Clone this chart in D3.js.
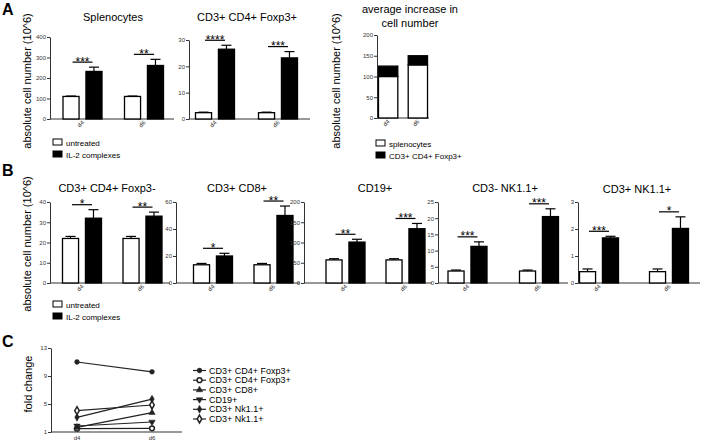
<!DOCTYPE html>
<html><head><meta charset="utf-8">
<script src="https://cdn.jsdelivr.net/npm/d3@7"></script>
<style>body{margin:0;background:#fff} svg{display:block}</style>
</head><body><svg id="c" width="702" height="443"></svg>
<script>
// ---------- DATA ----------
const groups = ["d4", "d6"];
const treatments = ["untreated", "IL-2 complexes"];

// Panel A
const splenoUntreated = [110, 110], splenoUntreatedErr = [2, 2];
const splenoTreated = [232, 261], splenoTreatedErr = [21, 30];
const splenoStars = ["***", "**"], splenoTicks = [0, 100, 200, 300, 400];

const tregUntreated = [2.4, 2.4], tregUntreatedErr = [0.2, 0.2];
const tregTreated = [26.5, 23.2], tregTreatedErr = [1.5, 2.4];
const tregStars = ["****", "***"], tregTicks = [0, 10, 20, 30];

const avgSplenocytes = [100, 128], avgTreg = [25, 22], avgTicks = [0, 50, 100, 150, 200];
const avgSeries = ["splenocytes", "CD3+ CD4+ Foxp3+"];

// Panel B
const convUntreated = [22, 22], convUntreatedErr = [1, 1];
const convTreated = [32, 33], convTreatedErr = [4.2, 2];
const convStars = ["*", "**"], convTicks = [0, 10, 20, 30, 40];

const cd8Untreated = [13.5, 13.5], cd8UntreatedErr = [1, 1];
const cd8Treated = [20, 50], cd8TreatedErr = [2, 7];
const cd8Stars = ["*", "**"], cd8Ticks = [0, 20, 40, 60];

const cd19Untreated = [57, 57], cd19UntreatedErr = [3, 3];
const cd19Treated = [101, 134], cd19TreatedErr = [7, 13];
const cd19Stars = ["**", "***"], cd19Ticks = [0, 50, 100, 150, 200];

const nkUntreated = [3.7, 3.7], nkUntreatedErr = [0.3, 0.3];
const nkTreated = [11.3, 20.5], nkTreatedErr = [1.4, 2.4];
const nkStars = ["***", "***"], nkTicks = [0, 5, 10, 15, 20, 25];

const nktUntreated = [0.42, 0.42], nktUntreatedErr = [0.1, 0.1];
const nktTreated = [1.67, 2.02], nktTreatedErr = [0.06, 0.43];
const nktStars = ["***", "*"], nktTicks = [0, 1, 2, 3];

// Panel C
const foldSeries = ["CD3+ CD4+ Foxp3+", "CD3+ CD4+ Foxp3+", "CD3+ CD8+", "CD19+", "CD3+ Nk1.1+", "CD3+ Nk1.1+"];
const foldFoxp3Pos = [11.0, 9.6];
const foldFoxp3Neg = [1.48, 1.53];
const foldCD8 = [1.67, 3.76];
const foldCD19 = [1.86, 2.43];
const foldNKneg = [3.1, 5.7];
const foldNKpos = [4.05, 4.86];
const foldTicks = [1, 5, 9, 13];

// ---------- DRAWING ----------
const FONT = '"Liberation Sans", Arial, Helvetica, sans-serif';
const AX = "#333";
const svg = d3.select("#c").attr("font-family", FONT);

function yAxis(g, y, ticks, x0) {
  const ax = d3.axisLeft(y).tickValues(ticks).tickFormat(d3.format("d"))
    .tickSize(3).tickSizeOuter(0).tickPadding(1);
  const a = g.append("g").attr("transform", `translate(${x0},0)`).call(ax);
  a.select(".domain").attr("stroke", AX).attr("stroke-width", 1);
  a.selectAll(".tick line").attr("stroke", AX);
  a.selectAll(".tick text").attr("font-size", 6).attr("fill", "#333").attr("font-family", FONT);
}

function text(g, x, y, s, size, opts = {}) {
  return g.append("text").attr("x", x).attr("y", y).text(s)
    .attr("font-size", size).attr("fill", opts.fill || "#000")
    .attr("text-anchor", opts.anchor || "start")
    .attr("font-weight", opts.weight || "normal");
}

function rotLabels(g, xf, y0) {
  groups.forEach(gr => {
    g.append("text").text(gr).attr("font-size", 6).attr("fill", "#333")
      .attr("text-anchor", "end")
      .attr("transform", `translate(${xf(gr) + 2},${y0 + 4}) rotate(-45)`);
  });
}

function barChart(L, D) {
  const g = svg.append("g");
  const y = d3.scaleLinear().domain([0, d3.max(D.ticks)]).range([L.y0, L.yTop]);
  const xg = d3.scalePoint().domain(groups).range([L.c4, L.c6]);
  const xi = d3.scaleBand().domain(treatments).range([-19.5, 19.5]).paddingInner(0.3);
  const bw = xi.bandwidth();
  yAxis(g, y, D.ticks, L.x0);
  g.append("line").attr("x1", L.x0).attr("x2", L.xEnd).attr("y1", L.y0).attr("y2", L.y0)
    .attr("stroke", AX);
  const recs = [];
  groups.forEach((gr, i) => {
    recs.push({ g: gr, t: treatments[0], v: D.u[i], e: D.ue[i] });
    recs.push({ g: gr, t: treatments[1], v: D.t[i], e: D.te[i] });
  });
  const cx = d => xg(d.g) + xi(d.t) + bw / 2;
  const eb = g.append("g").selectAll("g").data(recs).join("g").attr("stroke", "#000").attr("stroke-width", 1.2);
  eb.append("line").attr("x1", cx).attr("x2", cx).attr("y1", d => y(d.v)).attr("y2", d => y(d.v + d.e));
  eb.append("line").attr("x1", d => cx(d) - 5).attr("x2", d => cx(d) + 5)
    .attr("y1", d => y(d.v + d.e)).attr("y2", d => y(d.v + d.e));
  g.append("g").selectAll("rect").data(recs).join("rect")
    .attr("x", d => xg(d.g) + xi(d.t)).attr("y", d => y(d.v))
    .attr("width", bw).attr("height", d => L.y0 - y(d.v))
    .attr("fill", d => d.t === treatments[0] ? "#fff" : "#000")
    .attr("stroke", "#000").attr("stroke-width", 1.3);
  groups.forEach((gr, i) => {
    const top = y(D.t[i] + D.te[i]) - 5;
    const c = xg(gr);
    g.append("line").attr("x1", c - 10).attr("x2", c + 10).attr("y1", top).attr("y2", top)
      .attr("stroke", "#000").attr("stroke-width", 1.2);
    text(g, c, top + 3.5, D.stars[i], 12, { anchor: "middle" });
  });
  rotLabels(g, xg, L.y0);
  text(g, L.tx, L.ty, L.title, 11, { anchor: "middle" });
}

function ylabel(x, y, s, size) {
  svg.append("text").text(s).attr("font-size", size).attr("text-anchor", "middle")
    .attr("transform", `translate(${x},${y}) rotate(-90)`);
}

function legend(x, y, labels, fills) {
  labels.forEach((l, i) => {
    svg.append("rect").attr("x", x).attr("y", y + i * 12).attr("width", 9).attr("height", 6)
      .attr("fill", fills[i]).attr("stroke", "#000").attr("stroke-width", 1);
    text(svg, x + 13, y + i * 12 + 6.5, l, 8);
  });
}

// Panel letters
text(svg, 2, 15, "A", 16, { weight: "bold" });
text(svg, 2, 176, "B", 16, { weight: "bold" });
text(svg, 2, 347, "C", 16, { weight: "bold" });

// ---- Panel A ----
barChart({ x0: 50, xEnd: 174, y0: 119, yTop: 37, c4: 82.5, c6: 144, tx: 113, ty: 21, title: "Splenocytes" },
  { u: splenoUntreated, ue: splenoUntreatedErr, t: splenoTreated, te: splenoTreatedErr, stars: splenoStars, ticks: splenoTicks });
barChart({ x0: 189, xEnd: 310, y0: 119, yTop: 40, c4: 215, c6: 278, tx: 247, ty: 21, title: "CD3+ CD4+ Foxp3+" },
  { u: tregUntreated, ue: tregUntreatedErr, t: tregTreated, te: tregTreatedErr, stars: tregStars, ticks: tregTicks });
ylabel(31, 81, "absolute cell number (10^6)", 11);
legend(53, 139, treatments, ["#fff", "#000"]);

// Average increase stacked chart
(function () {
  const g = svg.append("g");
  const y = d3.scaleLinear().domain([0, 200]).range([118, 35]);
  const xb = d3.scaleBand().domain(groups).range([377, 429]).paddingInner(0.35).paddingOuter(0.05);
  yAxis(g, y, avgTicks, 377);
  g.append("line").attr("x1", 377).attr("x2", 429).attr("y1", 118).attr("y2", 118).attr("stroke", AX);
  const stacks = groups.map((gr, i) => ({ g: gr, a: avgSplenocytes[i], b: avgTreg[i] }));
  g.selectAll(".w").data(stacks).join("rect").attr("x", d => xb(d.g)).attr("width", xb.bandwidth())
    .attr("y", d => y(d.a)).attr("height", d => y(0) - y(d.a))
    .attr("fill", "#fff").attr("stroke", "#000").attr("stroke-width", 1.3);
  g.selectAll(".k").data(stacks).join("rect").attr("x", d => xb(d.g)).attr("width", xb.bandwidth())
    .attr("y", d => y(d.a + d.b)).attr("height", d => y(d.a) - y(d.a + d.b))
    .attr("fill", "#000").attr("stroke", "#000").attr("stroke-width", 1.3);
  const xc = gr => xb(gr) + xb.bandwidth() / 2;
  rotLabels(g, xc, 118);
  text(g, 410, 13, "average increase in", 11, { anchor: "middle" });
  text(g, 410, 27, "cell number", 11, { anchor: "middle" });
})();
ylabel(340, 81, "absolute cell number (10^6)", 11);
legend(376, 140, avgSeries, ["#fff", "#000"]);

// ---- Panel B ----
const bY0 = 283, bTop = 202;
barChart({ x0: 50, xEnd: 170, y0: bY0, yTop: bTop, c4: 82, c6: 142.5, tx: 107, ty: 192, title: "CD3+ CD4+ Foxp3-" },
  { u: convUntreated, ue: convUntreatedErr, t: convTreated, te: convTreatedErr, stars: convStars, ticks: convTicks });
barChart({ x0: 176, xEnd: 300, y0: bY0, yTop: bTop, c4: 213, c6: 273.5, tx: 237, ty: 192, title: "CD3+ CD8+" },
  { u: cd8Untreated, ue: cd8UntreatedErr, t: cd8Treated, te: cd8TreatedErr, stars: cd8Stars, ticks: cd8Ticks });
barChart({ x0: 304, xEnd: 432, y0: bY0, yTop: bTop, c4: 345.5, c6: 405.5, tx: 375, ty: 192, title: "CD19+" },
  { u: cd19Untreated, ue: cd19UntreatedErr, t: cd19Treated, te: cd19TreatedErr, stars: cd19Stars, ticks: cd19Ticks });
barChart({ x0: 438, xEnd: 568, y0: bY0, yTop: bTop, c4: 467.5, c6: 539, tx: 505, ty: 192, title: "CD3- NK1.1+" },
  { u: nkUntreated, ue: nkUntreatedErr, t: nkTreated, te: nkTreatedErr, stars: nkStars, ticks: nkTicks });
barChart({ x0: 578, xEnd: 700, y0: bY0, yTop: bTop, c4: 599, c6: 669, tx: 637, ty: 193, title: "CD3+ NK1.1+" },
  { u: nktUntreated, ue: nktUntreatedErr, t: nktTreated, te: nktTreatedErr, stars: nktStars, ticks: nktTicks });
ylabel(31, 244, "absolute cell number (10^6)", 11);
legend(53, 301, treatments, ["#fff", "#000"]);

// ---- Panel C ----
(function () {
  const g = svg.append("g");
  const y = d3.scaleLinear().domain([1, 13]).range([432, 348]);
  const x = d3.scalePoint().domain(groups).range([77, 152]);
  yAxis(g, y, foldTicks, 51);
  g.append("line").attr("x1", 51).attr("x2", 182).attr("y1", 432).attr("y2", 432).attr("stroke", AX);
  groups.forEach(gr => text(g, x(gr), 440, gr, 6, { anchor: "middle", fill: "#333" }));
  const series = [foldFoxp3Pos, foldFoxp3Neg, foldCD8, foldCD19, foldNKneg, foldNKpos];
  const sym = [
    { t: d3.symbolCircle, s: 18, fill: true, r: 0 },
    { t: d3.symbolCircle, s: 18, fill: false, r: 0 },
    { t: d3.symbolTriangle, s: 18, fill: true, r: 0 },
    { t: d3.symbolTriangle, s: 18, fill: true, r: 180 },
    { t: d3.symbolDiamond, s: 18, fill: true, r: 0 },
    { t: d3.symbolDiamond, s: 18, fill: false, r: 0 }
  ];
  const line = d3.line().x((d, i) => x(groups[i])).y(d => y(d));
  series.forEach((s, k) => {
    g.append("path").attr("d", line(s)).attr("fill", "none").attr("stroke", "#222").attr("stroke-width", 1.2);
  });
  const drawSym = (px, py, k) => {
    const m = sym[k];
    g.append("path").attr("d", d3.symbol(m.t, m.s)())
      .attr("transform", `translate(${px},${py}) rotate(${m.r})`)
      .attr("fill", m.fill ? "#222" : "#fff").attr("stroke", "#222").attr("stroke-width", m.fill ? 0.5 : 1.5);
  };
  series.forEach((s, k) => s.forEach((v, i) => drawSym(x(groups[i]), y(v), k)));
  // legend
  foldSeries.forEach((l, k) => {
    const ly = 370.5 + k * 9.7;
    g.append("line").attr("x1", 193).attr("x2", 206).attr("y1", ly).attr("y2", ly).attr("stroke", "#222").attr("stroke-width", 1.2);
    drawSym(199.5, ly, k);
    text(g, 209, ly + 3, l, 9);
  });
})();
ylabel(32, 384, "fold change", 11);
</script></body></html>
